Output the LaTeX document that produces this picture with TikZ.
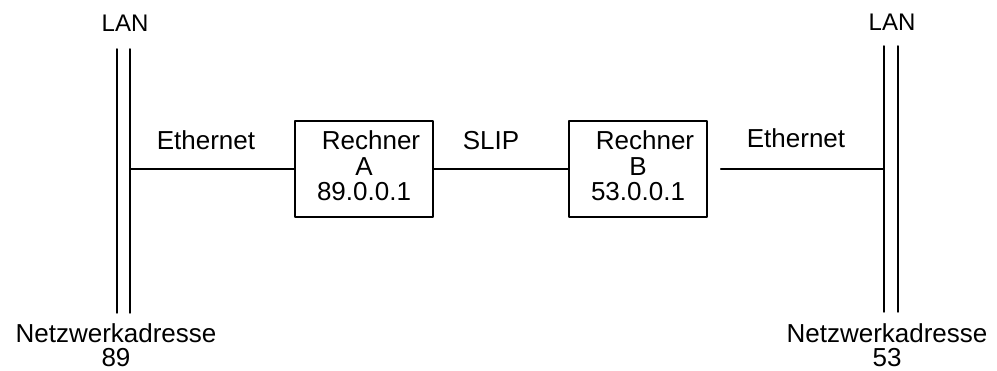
\documentclass[tikz,border=0pt]{standalone}
\usepackage{fontspec}
\setmainfont{Liberation Sans}
\usetikzlibrary{positioning}
\tikzset{
  rechner/.style={draw,minimum width=138pt,minimum height=96pt,inner sep=0pt,align=center,font=\fontsize{26}{25.5}\selectfont},
  schrift/.style={inner sep=0pt,align=center,font=\fontsize{26}{23.5}\selectfont},
  lanschrift/.style={inner sep=0pt,font=\fontsize{24}{26}\selectfont},
  every picture/.style={line cap=round,line join=round}
}

\begin{document}
\begin{tikzpicture}[x=1pt,y=-1pt,line width=1.5pt]
    \useasboundingbox (0,0) rectangle (997,371);
    % Rechner
    \node[rechner] (ra) at (364,169) {\hspace*{14pt}Rechner\\A\hspace*{14pt}\\89.0.0.1\rule[-6pt]{0pt}{0pt}};
    \node[rechner] (rb) at (638,169) {\hspace*{14pt}Rechner\\B\hspace*{14pt}\\53.0.0.1\rule[-6pt]{0pt}{0pt}};
    % LAN links
    \coordinate (l1o) at (117,49);
    \coordinate (l1u) at (117,313);
    \coordinate (l2o) at (130,49);
    \coordinate (l2u) at (130,313);
    % LAN rechts
    \coordinate (r1o) at (884,46);
    \coordinate (r1u) at (884,312);
    \coordinate (r2o) at (898,46);
    \coordinate (r2u) at (898,312);
    \draw (l1o)--(l1u) (l2o)--(l2u)
          (r1o)--(r1u) (r2o)--(r2u);
    \draw (l2o |- ra)--(ra) (ra)--(rb)
          ([xshift=13pt]rb.east)--(r1o |- rb);
    % Beschriftung
    \node[lanschrift,anchor=base] (lanl) at (125,32) {LAN};
    \node[lanschrift,anchor=base] (lanr) at (892,31) {LAN};
    \node[schrift,anchor=base] (ethl) at (206,150) {Ethernet};
    \node[schrift,anchor=base] (slip) at (491,150) {SLIP};
    \node[schrift,anchor=base] (ethr) at (796,148) {Ethernet};
    \node[schrift,anchor=north] (adrl) at (116,323) {Netzwerkadresse\\89};
    \node[schrift,anchor=north] (adrr) at (887,323) {Netzwerkadresse\\53};
\end{tikzpicture}
\end{document}
